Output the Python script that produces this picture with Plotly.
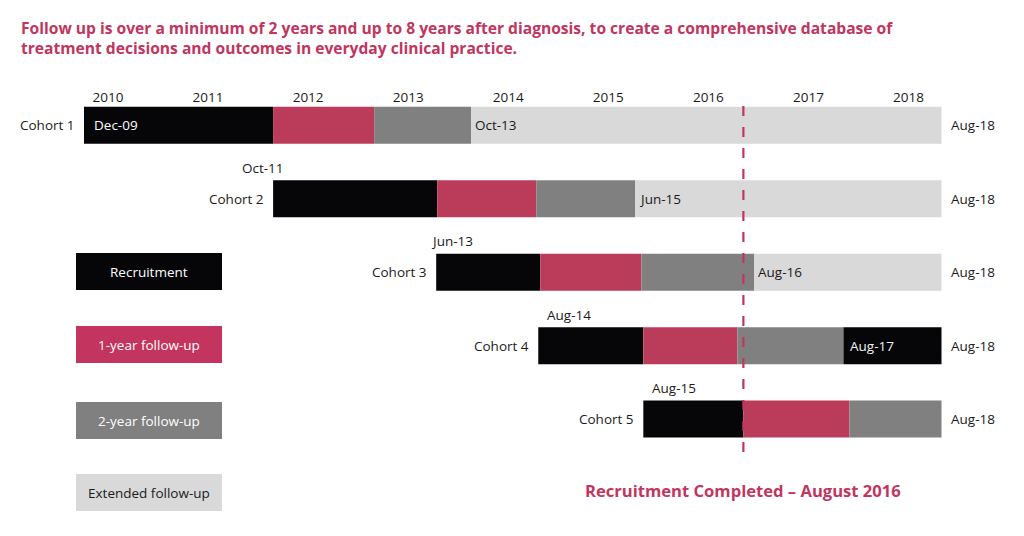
"""Cohort timeline: recruitment and follow-up phases."""

import plotly.graph_objects as go

# ---- data ---------------------------------------------------------------
COHORTS = ["Cohort 1", "Cohort 2", "Cohort 3", "Cohort 4", "Cohort 5"]
YEARS = [2010, 2011, 2012, 2013, 2014, 2015, 2016, 2017, 2018]
PHASES = ["Recruitment", "1-year follow-up", "2-year follow-up", "Extended follow-up"]

# phase boundaries in (chart) years
cohort_start = [2009.76, 2011.65, 2013.28, 2014.30, 2015.35]
recruit_end = [2011.65, 2013.29, 2014.32, 2015.35, 2016.35]
fu1_end = [2012.66, 2014.28, 2015.33, 2016.29, 2017.41]
fu2_end = [2013.63, 2015.27, 2016.46, 2017.35, 2018.33]
study_end = [2018.33, 2018.33, 2018.33, 2018.33, 2018.33]

start_labels = ["Dec-09", "Oct-11", "Jun-13", "Aug-14", "Aug-15"]
extended_labels = ["Oct-13", "Jun-15", "Aug-16", "Aug-17", None]
end_labels = ["Aug-18", "Aug-18", "Aug-18", "Aug-18", "Aug-18"]

recruitment_completed = 2016.35

TITLE = (
    "Follow up is over a minimum of 2 years and up to 8 years after diagnosis, "
    "to create a comprehensive database of<br>"
    "treatment decisions and outcomes in everyday clinical practice."
)

# ---- styling ------------------------------------------------------------
BLACK = "#060609"
RED = "#bb3c5a"
RED_LEGEND = "#c3345e"
GRAY = "#808080"
LIGHT = "#d9d9d9"
TEXT = "#1a1a1a"
TITLE_RED = "#c0365e"
FONT = "Open Sans"
FS = 13.5

# the page body has an 8px margin, so screen px = figure px + 8
OFF = 8
W, H = 1024 - OFF, 536 - OFF
MT = 98
X0_PX, PX_PER_YEAR = 108 - OFF, 100.06
ROW0_PX, ROW_PX = 125.3 - OFF, 73.45


def paper_x(px):
    return (px - OFF) / W


def paper_y(py):
    return (H - (py - OFF)) / (H - MT)


rows = list(range(len(COHORTS)))

fig = go.Figure()

segments = [
    (cohort_start, recruit_end, [BLACK] * 5),
    (recruit_end, fu1_end, [RED] * 5),
    (fu1_end, fu2_end, [GRAY] * 5),
    (fu2_end, study_end, [LIGHT, LIGHT, LIGHT, BLACK, LIGHT]),
]
for (starts, ends, colors), phase in zip(segments, PHASES):
    fig.add_bar(
        y=rows,
        x=[e - s for s, e in zip(starts, ends)],
        base=starts,
        orientation="h",
        width=37 / ROW_PX,
        marker=dict(color=colors, line=dict(width=0)),
        name=phase,
        showlegend=False,
        hoverinfo="skip",
    )

annotations = []
label_font = dict(family=FONT, size=FS, color=TEXT)
start_shift = [8, -10, 16, 31, 31]
for i in rows:
    annotations.append(dict(
        x=cohort_start[i], y=i, xref="x", yref="y", text=COHORTS[i],
        xanchor="right", xshift=-7, showarrow=False, font=label_font,
    ))
    if i == 0:
        annotations.append(dict(
            x=cohort_start[i], y=i, xref="x", yref="y", text=start_labels[i],
            xanchor="left", xshift=start_shift[i], showarrow=False,
            font=dict(family=FONT, size=FS, color="white"),
        ))
    else:
        annotations.append(dict(
            x=cohort_start[i], y=i, xref="x", yref="y", text=start_labels[i],
            xanchor="center", xshift=start_shift[i], yshift=31, showarrow=False,
            font=label_font,
        ))
    if extended_labels[i]:
        on_black = i == 3
        annotations.append(dict(
            x=fu2_end[i], y=i, xref="x", yref="y", text=extended_labels[i],
            xanchor="left", xshift=5 if on_black else 2, showarrow=False,
            font=dict(family=FONT, size=FS, color="#f2f2f2" if on_black else TEXT),
        ))
    annotations.append(dict(
        x=study_end[i], y=i, xref="x", yref="y", text=end_labels[i],
        xanchor="left", xshift=7, showarrow=False, font=label_font,
    ))

# title
annotations.append(dict(
    x=paper_x(19), y=paper_y(15), xref="paper", yref="paper", text=f"<b>{TITLE}</b>",
    xanchor="left", yanchor="top", align="left", showarrow=False,
    font=dict(family=FONT, size=15.6, color=TITLE_RED),
))
annotations.append(dict(
    x=recruitment_completed, y=paper_y(490), xref="x", yref="paper",
    text="<b>Recruitment Completed – August 2016</b>", xanchor="center",
    yanchor="middle", showarrow=False,
    font=dict(family=FONT, size=16.6, color=TITLE_RED),
))

# legend boxes
shapes = []
legend_colors = [BLACK, RED_LEGEND, GRAY, LIGHT]
legend_text = ["white", "white", "white", TEXT]
legend_top = [253, 326, 402, 474]
for phase, color, tcolor, top in zip(PHASES, legend_colors, legend_text, legend_top):
    shapes.append(dict(
        type="rect", xref="paper", yref="paper",
        x0=paper_x(76), x1=paper_x(222), y0=paper_y(top + 37), y1=paper_y(top),
        fillcolor=color, line=dict(width=0), layer="below",
    ))
    annotations.append(dict(
        x=paper_x(149), y=paper_y(top + 18.5), xref="paper", yref="paper",
        text=phase, showarrow=False, xanchor="center", yanchor="middle",
        font=dict(family=FONT, size=FS, color=tcolor),
    ))

# recruitment completed marker
shapes.append(dict(
    type="line", xref="x", yref="paper",
    x0=recruitment_completed, x1=recruitment_completed,
    y0=paper_y(452), y1=paper_y(96),
    line=dict(color=TITLE_RED, width=2.2, dash="10px,11px"), layer="above",
))

fig.update_layout(
    width=W,
    height=H,
    margin=dict(l=0, r=0, t=MT, b=0, pad=0),
    paper_bgcolor="white",
    plot_bgcolor="white",
    barmode="overlay",
    font=dict(family=FONT, size=FS, color=TEXT),
    xaxis=dict(
        side="top",
        range=[2010 - X0_PX / PX_PER_YEAR, 2010 + (W - X0_PX) / PX_PER_YEAR],
        tickmode="array",
        tickvals=YEARS,
        ticktext=[str(y) for y in YEARS],
        ticks="",
        showgrid=False,
        zeroline=False,
        showline=False,
        tickfont=dict(family=FONT, size=FS, color=TEXT),
    ),
    yaxis=dict(
        range=[(H - ROW0_PX) / ROW_PX, (MT - ROW0_PX) / ROW_PX],
        visible=False,
        showgrid=False,
        zeroline=False,
    ),
    annotations=annotations,
    shapes=shapes,
)

fig.write_html("out.html")
